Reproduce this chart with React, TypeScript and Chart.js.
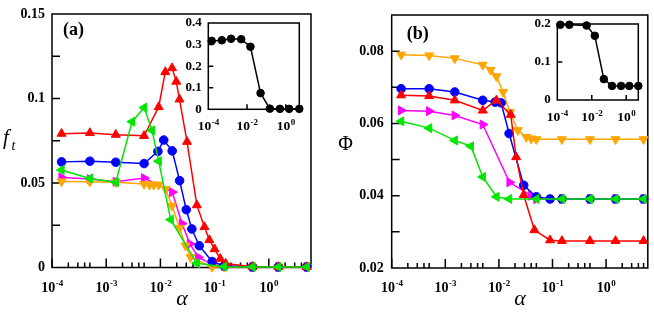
import React, { useEffect, useRef } from 'react';
import { Chart, registerables } from 'chart.js';

Chart.register(...registerables);

const SERIF = '"Liberation Serif", "Times New Roman", Times, serif';

// ---------- Panel (a): f_t vs alpha ----------
const aRedX = [1.5e-4, 5e-4, 1.5e-3, 5e-3, 9.3e-3, 0.0123, 0.0164, 0.0196, 0.0225, 0.031, 0.047, 0.065, 0.08, 0.1, 0.127, 0.16, 0.5, 1.5, 5];
const aRedY = [0.0792, 0.0796, 0.0786, 0.0779, 0.095, 0.1157, 0.118, 0.11, 0.0995, 0.0744, 0.0369, 0.024, 0.0163, 0.0109, 0.0052, 0.0023, 0.0005, 0.0003, 0.0003];
const aBlueX = [1.5e-4, 5e-4, 1.5e-3, 5e-3, 9e-3, 0.0115, 0.0165, 0.0226, 0.03, 0.038, 0.052, 0.09, 0.15, 0.5, 1.5, 5];
const aBlueY = [0.0625, 0.0629, 0.0623, 0.0615, 0.0687, 0.0754, 0.069, 0.0514, 0.0342, 0.0228, 0.0129, 0.0035, 0.001, 0.0003, 0.0003, 0.0003];
const aGreenX = [1.5e-4, 5e-4, 1.5e-3, 3e-3, 5e-3, 7e-3, 9.3e-3, 0.0155, 0.047, 0.15, 0.5, 1.5, 5];
const aGreenY = [0.0577, 0.0527, 0.0504, 0.0863, 0.0946, 0.0811, 0.0629, 0.0283, 0.0025, 0.0005, 0.0003, 0.0003, 0.0003];
const aMagX = [1.5e-4, 5e-4, 1.5e-3, 5e-3, 0.0165, 0.025, 0.035, 0.05, 0.09, 0.15, 0.5, 1.5, 5];
const aMagY = [0.0533, 0.0523, 0.0508, 0.0529, 0.0446, 0.026, 0.014, 0.006, 0.002, 0.0008, 0.0003, 0.0003, 0.0003];
const aOrX = [1.5e-4, 5e-4, 1.5e-3, 5e-3, 6.3e-3, 7.5e-3, 9.3e-3, 0.0125, 0.0164, 0.0226, 0.029, 0.036, 0.09, 0.15, 0.5, 1.5, 5];
const aOrY = [0.0509, 0.0508, 0.0504, 0.0494, 0.049, 0.049, 0.049, 0.0465, 0.0365, 0.0234, 0.0129, 0.0061, 0.0003, 0.0003, 0.0003, 0.0003, 0.0003];

// ---------- Panel (b): Phi vs alpha ----------
const bOrX = [1.5e-4, 5e-4, 1.5e-3, 5e-3, 7e-3, 9e-3, 0.012, 0.016, 0.0226, 0.0325, 0.04, 0.05, 0.15, 0.5, 1.5, 5];
const bOrY = [0.079, 0.0788, 0.078, 0.0762, 0.0748, 0.073, 0.0687, 0.0631, 0.0581, 0.0562, 0.0558, 0.0556, 0.0556, 0.0556, 0.0556, 0.0556];
const bBlueX = [1.5e-4, 5e-4, 1.5e-3, 5e-3, 8.5e-3, 0.011, 0.0155, 0.029, 0.05, 0.09, 0.15, 0.5, 1.5, 5];
const bBlueY = [0.0696, 0.0696, 0.0687, 0.0664, 0.0659, 0.0657, 0.0572, 0.0429, 0.0397, 0.0391, 0.0391, 0.0391, 0.0391, 0.0391];
const bRedX = [1.5e-4, 5e-4, 1.5e-3, 5e-3, 9e-3, 0.0166, 0.021, 0.029, 0.046, 0.09, 0.15, 0.5, 1.5, 5];
const bRedY = [0.0678, 0.0676, 0.0664, 0.0636, 0.0664, 0.0624, 0.0507, 0.0402, 0.0305, 0.0277, 0.0275, 0.0275, 0.0275, 0.0275];
const bMagX = [1.5e-4, 5e-4, 1.5e-3, 5e-3, 0.0158, 0.04, 0.05, 0.15, 0.5, 1.5, 5];
const bMagY = [0.0636, 0.0634, 0.0622, 0.0597, 0.0437, 0.04, 0.0391, 0.0391, 0.0391, 0.0391, 0.0391];
const bGreenX = [1.5e-4, 5e-4, 1.5e-3, 3e-3, 5e-3, 9e-3, 0.0155, 0.05, 0.15, 0.5, 1.5, 5];
const bGreenY = [0.0606, 0.0587, 0.0553, 0.0537, 0.0452, 0.0397, 0.0391, 0.0391, 0.0391, 0.0391, 0.0391, 0.0391];

// ---------- Insets ----------
const insAX = [1.5e-4, 5e-4, 1.5e-3, 5e-3, 1.5e-2, 5e-2, 0.15, 0.5, 1.5, 5];
const insAY = [0.317, 0.32, 0.327, 0.325, 0.29, 0.075, 0.003, 0.002, 0.002, 0.002];
const insBX = [1.5e-4, 5e-4, 5e-3, 1.5e-2, 5e-2, 0.15, 0.5, 1.5, 5];
const insBY = [0.198, 0.198, 0.196, 0.169, 0.055, 0.037, 0.037, 0.037, 0.037];

// ---------- Ticks ----------
const mainXExps = [-4, -3, -2, -1, 0];
const minorMults = [2, 3, 4, 5];
const insetXExps = [-4, -2, 0];
const insetXMarks = [1e-2, 1];
const aYVals = [0, 0.05, 0.1, 0.15];
const aYLabels = ['0', '0.05', '0.1', '0.15'];
const aYMarks = [0.025, 0.05, 0.075, 0.1, 0.125];
const bYVals = [0.02, 0.04, 0.06, 0.08];
const bYLabels = ['0.02', '0.04', '0.06', '0.08'];
const bYMarks = [0.03, 0.04, 0.05, 0.06, 0.07, 0.08];
const iaYVals = [0, 0.1, 0.2, 0.3, 0.4];
const iaYLabels = ['0', '0.1', '0.2', '0.3', '0.4'];
const iaYMarks = [0.1, 0.2, 0.3];
const ibYVals = [0, 0.1, 0.2];
const ibYLabels = ['0', '0.1', '0.2'];
const ibYMarks = [0.1];

const RED = '#ff0000';
const BLUE = '#0000ff';
const GREEN = '#00e600';
const MAG = '#ff00ff';
const ORANGE = '#ffa500';

type Series = { x: number[]; y: number[]; color: string; style: string; rot: number; r: number };
type TextItem = { text: string; x: number; y: number; font: string; align: CanvasTextAlign };

const pts = (xs: number[], ys: number[]) => xs.map((x, i) => ({ x, y: ys[i] }));

function drawPow(ctx: CanvasRenderingContext2D, cx: number, top: number, exp: number, size: number, sup: number) {
  const base = '10';
  const e = exp < 0 ? '-' + Math.abs(exp) : String(exp);
  ctx.font = `bold ${size}px ${SERIF}`;
  const w1 = ctx.measureText(base).width;
  ctx.font = `bold ${sup}px ${SERIF}`;
  const w2 = ctx.measureText(e).width;
  const start = cx - (w1 + w2) / 2;
  const baseline = top + size * 0.68;
  ctx.textAlign = 'left';
  ctx.textBaseline = 'alphabetic';
  ctx.font = `bold ${size}px ${SERIF}`;
  ctx.fillText(base, start, baseline);
  ctx.font = `bold ${sup}px ${SERIF}`;
  ctx.fillText(e, start + w1 + 0.5, baseline - size * 0.42);
}

type Decor = {
  xMajor: number[];
  xMinor: number[];
  majLen: number;
  minLen: number;
  yMarks: number[];
  yLen: number;
  xExps: number[];
  labelGap: number;
  labelSize: number;
  supSize: number;
  texts: TextItem[];
};

function makeDecor(d: Decor) {
  return {
    id: 'decor',
    beforeDatasetsDraw(chart: any) {
      const { ctx, chartArea: a, scales } = chart;
      const xs = scales.x;
      const ys = scales.y;
      ctx.save();
      ctx.strokeStyle = '#000';
      ctx.lineWidth = 1.5;
      ctx.strokeRect(a.left, a.top, a.right - a.left, a.bottom - a.top);
      ctx.beginPath();
      d.xMajor.forEach((v) => {
        const p = xs.getPixelForValue(v);
        ctx.moveTo(p, a.bottom);
        ctx.lineTo(p, a.bottom - d.majLen);
      });
      d.xMinor.forEach((v) => {
        const p = xs.getPixelForValue(v);
        ctx.moveTo(p, a.bottom);
        ctx.lineTo(p, a.bottom - d.minLen);
      });
      d.yMarks.forEach((v) => {
        const p = ys.getPixelForValue(v);
        ctx.moveTo(a.left, p);
        ctx.lineTo(a.left + d.yLen, p);
      });
      ctx.stroke();
      ctx.fillStyle = '#000';
      d.xExps.forEach((e) => {
        drawPow(ctx, xs.getPixelForValue(Math.pow(10, e)), a.bottom + d.labelGap, e, d.labelSize, d.supSize);
      });
      d.texts.forEach((t) => {
        ctx.font = t.font;
        ctx.textAlign = t.align;
        ctx.textBaseline = 'alphabetic';
        ctx.fillText(t.text, t.x, t.y);
      });
      ctx.restore();
    },
  };
}

type Cfg = {
  series: Series[];
  lw: number;
  xMin: number;
  xMax: number;
  yMin: number;
  yMax: number;
  yVals: number[];
  yLabels: string[];
  ySize: number;
  yPad: number;
  yWidth: number;
  xHeight: number;
  padding: { left: number; top: number; right: number; bottom: number };
  decor: Decor;
};

function buildConfig(c: Cfg): any {
  return {
    type: 'scatter',
    data: {
      datasets: c.series.map((s) => ({
        data: pts(s.x, s.y),
        showLine: true,
        borderColor: s.color,
        backgroundColor: s.color,
        borderWidth: c.lw,
        pointStyle: s.style,
        pointRotation: s.rot,
        pointRadius: s.r,
        pointBorderWidth: 1,
        pointBackgroundColor: s.color,
        pointBorderColor: s.color,
        pointHoverRadius: s.r,
        tension: 0,
        clip: false,
      })),
    },
    options: {
      responsive: false,
      animation: false,
      devicePixelRatio: 1,
      events: [],
      layout: { padding: c.padding },
      plugins: { legend: { display: false }, tooltip: { enabled: false } },
      scales: {
        x: {
          type: 'logarithmic',
          min: c.xMin,
          max: c.xMax,
          ticks: { display: false },
          grid: { display: false, drawTicks: false },
          border: { display: false },
          afterFit: (s: any) => {
            s.height = c.xHeight;
          },
        },
        y: {
          type: 'linear',
          min: c.yMin,
          max: c.yMax,
          afterBuildTicks: (s: any) => {
            s.ticks = c.yVals.map((v) => ({ value: v }));
          },
          ticks: {
            autoSkip: false,
            color: '#000',
            padding: c.yPad,
            font: { family: SERIF, weight: 'bold', size: c.ySize, lineHeight: 1 },
            callback: (_v: any, i: number) => c.yLabels[i],
          },
          grid: { display: false, drawTicks: false },
          border: { display: false },
          afterFit: (s: any) => {
            s.width = c.yWidth;
          },
        },
      },
    },
    plugins: [makeDecor(c.decor)],
  };
}

const mainMinor = mainXExps.flatMap((e) => minorMults.map((m) => m * Math.pow(10, e)));

const seriesA: Series[] = [
  { x: aGreenX, y: aGreenY, color: GREEN, style: 'triangle', rot: 270, r: 5.2 },
  { x: aRedX, y: aRedY, color: RED, style: 'triangle', rot: 0, r: 5.2 },
  { x: aBlueX, y: aBlueY, color: BLUE, style: 'circle', rot: 0, r: 4.3 },
  { x: aOrX, y: aOrY, color: ORANGE, style: 'triangle', rot: 180, r: 5.2 },
  { x: aMagX, y: aMagY, color: MAG, style: 'triangle', rot: 90, r: 5.2 },
];
const seriesB: Series[] = [
  { x: bGreenX, y: bGreenY, color: GREEN, style: 'triangle', rot: 270, r: 5.2 },
  { x: bRedX, y: bRedY, color: RED, style: 'triangle', rot: 0, r: 5.2 },
  { x: bBlueX, y: bBlueY, color: BLUE, style: 'circle', rot: 0, r: 4.3 },
  { x: bOrX, y: bOrY, color: ORANGE, style: 'triangle', rot: 180, r: 5.2 },
  { x: bMagX, y: bMagY, color: MAG, style: 'triangle', rot: 90, r: 5.2 },
];

const cfgA = (): any =>
  buildConfig({
    series: seriesA,
    lw: 1.5,
    xMin: 1e-4,
    xMax: 6,
    yMin: 0,
    yMax: 0.15,
    yVals: aYVals,
    yLabels: aYLabels,
    ySize: 14,
    yPad: 7,
    yWidth: 52,
    xHeight: 44.5,
    padding: { left: 0, top: 7, right: 16, bottom: 0 },
    decor: {
      xMajor: mainXExps.map((e) => Math.pow(10, e)),
      xMinor: mainMinor,
      majLen: 9,
      minLen: 5,
      yMarks: aYMarks,
      yLen: 8,
      xExps: mainXExps,
      labelGap: 14.5,
      labelSize: 14,
      supSize: 9,
      texts: [
        { text: '(a)', x: 63, y: 35, font: `bold 18px ${SERIF}`, align: 'left' },
        { text: 'f', x: 3, y: 144, font: `italic 21px ${SERIF}`, align: 'left' },
        { text: 't', x: 11.5, y: 150, font: `italic 14px ${SERIF}`, align: 'left' },
        { text: 'α', x: 182, y: 305, font: `italic 22px ${SERIF}`, align: 'center' },
      ],
    },
  });

const cfgB = (): any =>
  buildConfig({
    series: seriesB,
    lw: 1.5,
    xMin: 1e-4,
    xMax: 6,
    yMin: 0.02,
    yMax: 0.09,
    yVals: bYVals,
    yLabels: bYLabels,
    ySize: 14,
    yPad: 8,
    yWidth: 64.7,
    xHeight: 44,
    padding: { left: 0, top: 14, right: 5.7, bottom: 0 },
    decor: {
      xMajor: mainXExps.map((e) => Math.pow(10, e)),
      xMinor: mainMinor,
      majLen: 9,
      minLen: 5,
      yMarks: bYMarks,
      yLen: 8,
      xExps: mainXExps,
      labelGap: 14,
      labelSize: 14,
      supSize: 9,
      texts: [
        { text: '(b)', x: 79.7, y: 39, font: `bold 18px ${SERIF}`, align: 'left' },
        { text: 'Φ', x: 18.5, y: 150, font: `20px ${SERIF}`, align: 'center' },
        { text: 'α', x: 193, y: 305, font: `italic 22px ${SERIF}`, align: 'center' },
      ],
    },
  });

const cfgIA = (): any =>
  buildConfig({
    series: [{ x: insAX, y: insAY, color: '#000', style: 'circle', rot: 0, r: 3.8 }],
    lw: 1.5,
    xMin: 1e-4,
    xMax: 5,
    yMin: 0,
    yMax: 0.4,
    yVals: iaYVals,
    yLabels: iaYLabels,
    ySize: 13,
    yPad: 6.5,
    yWidth: 38.3,
    xHeight: 30.7,
    padding: { left: 0, top: 12.7, right: 10.7, bottom: 0 },
    decor: {
      xMajor: insetXMarks,
      xMinor: [],
      majLen: 5,
      minLen: 0,
      yMarks: iaYMarks,
      yLen: 5,
      xExps: insetXExps,
      labelGap: 12,
      labelSize: 13.5,
      supSize: 9,
      texts: [],
    },
  });

const cfgIB = (): any =>
  buildConfig({
    series: [{ x: insBX, y: insBY, color: '#000', style: 'circle', rot: 0, r: 3.8 }],
    lw: 1.5,
    xMin: 1e-4,
    xMax: 5,
    yMin: 0,
    yMax: 0.2,
    yVals: ibYVals,
    yLabels: ibYLabels,
    ySize: 13,
    yPad: 6.5,
    yWidth: 37.3,
    xHeight: 30,
    padding: { left: 0, top: 14, right: 11.7, bottom: 0 },
    decor: {
      xMajor: insetXMarks,
      xMinor: [],
      majLen: 5,
      minLen: 0,
      yMarks: ibYMarks,
      yLen: 5,
      xExps: insetXExps,
      labelGap: 12,
      labelSize: 13.5,
      supSize: 9,
      texts: [],
    },
  });

function ChartCanvas(props: { left: number; top: number; width: number; height: number; make: () => any }) {
  const ref = useRef<HTMLCanvasElement | null>(null);
  useEffect(() => {
    if (!ref.current) return;
    const chart = new Chart(ref.current, props.make());
    return () => chart.destroy();
  }, []);
  return (
    <canvas
      ref={ref}
      width={props.width}
      height={props.height}
      style={{ position: 'absolute', left: props.left, top: props.top, width: props.width, height: props.height }}
    />
  );
}

export default function App() {
  return (
    <div style={{ position: 'fixed', left: 0, top: 0, width: 654, height: 312, background: '#fff' }}>
      <ChartCanvas left={0} top={0} width={327} height={312} make={cfgA} />
      <ChartCanvas left={327} top={0} width={327} height={312} make={cfgB} />
      <ChartCanvas left={170} top={10} width={140} height={130} make={cfgIA} />
      <ChartCanvas left={520} top={10} width={130} height={120} make={cfgIB} />
    </div>
  );
}
